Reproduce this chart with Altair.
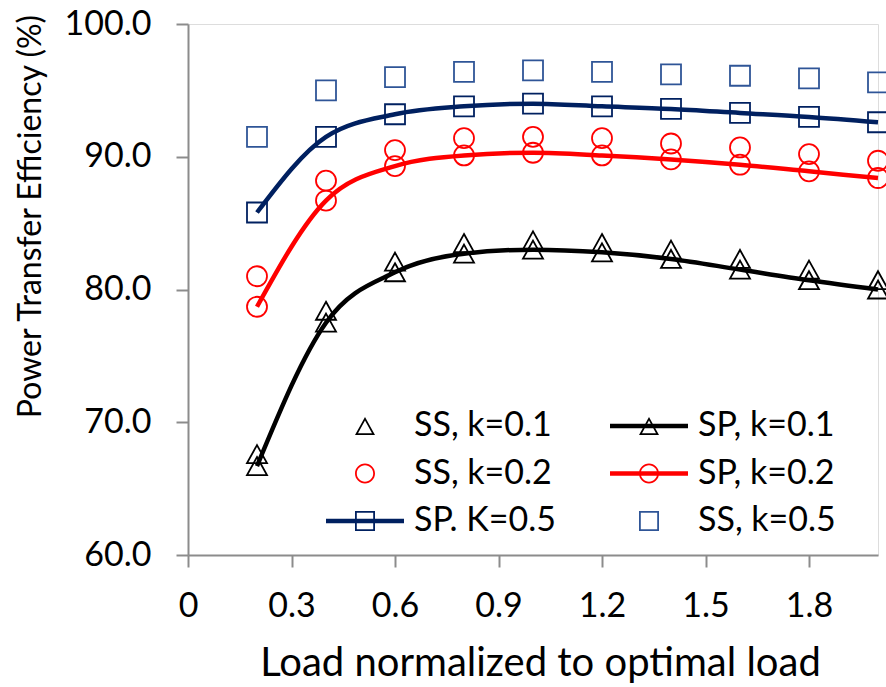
import altair as alt
import pandas as pd

# ---- data ----
load = [0.2, 0.4, 0.6, 0.8, 1.0, 1.2, 1.4, 1.6, 1.8, 2.0]
ss_k01 = [67.6, 78.4, 82.1, 83.5, 83.7, 83.5, 83.0, 82.3, 81.5, 80.7]
sp_k01 = [66.7, 77.5, 81.3, 82.7, 83.0, 82.8, 82.3, 81.5, 80.7, 80.0]
ss_k02 = [81.0, 88.2, 90.5, 91.4, 91.5, 91.4, 91.0, 90.7, 90.2, 89.7]
sp_k02 = [78.7, 86.7, 89.3, 90.1, 90.3, 90.1, 89.8, 89.4, 88.9, 88.4]
sp_k05 = [85.8, 91.5, 93.2, 93.8, 94.0, 93.8, 93.6, 93.3, 93.0, 92.6]
ss_k05 = [91.5, 95.0, 96.0, 96.4, 96.5, 96.4, 96.2, 96.1, 95.9, 95.6]

series_names = ["SS, k=0.1", "SP, k=0.1", "SS, k=0.2", "SP, k=0.2", "SP. K=0.5", "SS, k=0.5"]
series_kind = ["SS", "SP", "SS", "SP", "SP", "SS"]
series_marker = ["tri", "tri", "circ", "circ", "sq", "sq"]
series_colors = ["#000000", "#000000", "#FF0000", "#FF0000", "#002060", "#2F5597"]
series_values = [ss_k01, sp_k01, ss_k02, sp_k02, sp_k05, ss_k05]
# legend fills column by column: left column first, then right column
legend_order = ["SS, k=0.1", "SS, k=0.2", "SP. K=0.5", "SP, k=0.1", "SP, k=0.2", "SS, k=0.5"]

x_ticks = [0, 0.3, 0.6, 0.9, 1.2, 1.5, 1.8]
y_ticks = [60, 70, 80, 90, 100]

rows = []
for name, kind, mk, vals in zip(series_names, series_kind, series_marker, series_values):
    for xv, yv in zip(load, vals):
        rows.append({"load": xv, "eff": yv, "series": name, "kind": kind, "marker": mk})
df = pd.DataFrame(rows)

# ---- marker / legend symbol paths ----
TRI = "M0,-0.9L1,0.9L-1,0.9Z"
SQ = "M-1,-1L1,-1L1,1L-1,1Z"
TRI_RING = "M0,-0.9L1,0.9L-1,0.9Z M0,-0.55L-0.7,0.72L0.7,0.72Z"
CIRC_RING = ("M-1,0A1 1 0 1 1 1,0A1 1 0 1 1 -1,0Z "
             "M-0.82,0A0.82 0.82 0 1 0 0.82,0A0.82 0.82 0 1 0 -0.82,0Z")
SQ_RING = "M-1,-1L1,-1L1,1L-1,1Z M-0.82,-0.82L-0.82,0.82L0.82,0.82L0.82,-0.82Z"
LINE = " M-3.9,-0.23L3.9,-0.23L3.9,0.23L-3.9,0.23Z"
ring_of = {"tri": TRI_RING, "circ": CIRC_RING, "sq": SQ_RING}
marker_shapes = {"tri": TRI, "circ": "circle", "sq": SQ}

info = {n: (k, m, c) for n, k, m, c in zip(series_names, series_kind, series_marker, series_colors)}
legend_paths = [ring_of[info[n][1]] + (LINE if info[n][0] == "SP" else "") for n in legend_order]
legend_colors = [info[n][2] for n in legend_order]

FONT = "Lato"

x_enc = alt.X("load:Q", scale=alt.Scale(domain=[0, 2.0], nice=False, zero=False),
              axis=alt.Axis(values=x_ticks, title="Load normalized to optimal load",
                            labelExpr="datum.value == 0 ? '0' : format(datum.value, '.1f')",
                            grid=False, domainColor="#8C8C8C", domainWidth=2,
                            tickColor="#8C8C8C", tickWidth=2, tickSize=12,
                            labelFont=FONT, labelFontSize=34, labelColor="black",
                            labelPadding=22, labelFlush=False, labelOverlap=False,
                            titleFont=FONT, titleFontSize=40, titleFontWeight="normal",
                            titleColor="black", titleX=352, titleY=108,
                            titleBaseline="middle", titleAlign="center"))
y_enc = alt.Y("eff:Q", scale=alt.Scale(domain=[60, 100], nice=False, zero=False),
              axis=alt.Axis(values=y_ticks, format=".1f", title="Power Transfer Efficiency (%)",
                            grid=False, domainColor="#8C8C8C", domainWidth=2,
                            tickColor="#8C8C8C", tickWidth=2, tickSize=12,
                            labelFont=FONT, labelFontSize=34, labelColor="black",
                            labelPadding=25, labelFlush=False, labelOverlap=False,
                            titleFont=FONT, titleFontSize=32, titleFontWeight="normal",
                            titleColor="black", titleX=-158, titleY=192,
                            titleAngle=270, titleBaseline="middle", titleAlign="center"))

base = alt.Chart(df)
layers = []

# smoothed SP lines
for name, kind, col in zip(series_names, series_kind, series_colors):
    if kind != "SP":
        continue
    layers.append(
        base.transform_filter(alt.datum.series == name)
        .mark_line(strokeWidth=4.5, interpolate="monotone", color=col)
        .encode(x=x_enc, y=y_enc)
    )

# hollow markers
for name, mk, col in zip(series_names, series_marker, series_colors):
    layers.append(
        base.transform_filter(alt.datum.series == name)
        .mark_point(shape=marker_shapes[mk], size=400, filled=False,
                    strokeWidth=1.8, opacity=1, color=col)
        .encode(x="load:Q", y="eff:Q")
    )

leg = alt.Legend(title=None, orient="none", legendX=160, legendY=385, columns=2,
                 symbolSize=400, symbolStrokeWidth=0, symbolOpacity=1,
                 labelFont=FONT, labelFontSize=34, labelColor="black", labelLimit=500,
                 labelOffset=32, rowPadding=13.5, columnPadding=54, padding=0)

legend_layer = base.mark_point(filled=True, size=400, opacity=0).encode(
    x="load:Q", y="eff:Q",
    color=alt.Color("series:N", scale=alt.Scale(domain=legend_order, range=legend_colors), legend=leg),
    shape=alt.Shape("series:N", scale=alt.Scale(domain=legend_order, range=legend_paths), legend=leg),
)
layers.append(legend_layer)

chart = alt.layer(*layers).properties(
    width=690, height=531,
    autosize=alt.AutoSizeParams(type="none"),
    padding={"left": 188, "top": 24, "right": 8, "bottom": 132},
).configure_view(stroke=None).configure(background="white")

chart.save("out.html", embed_options={"renderer": "svg", "actions": False})
